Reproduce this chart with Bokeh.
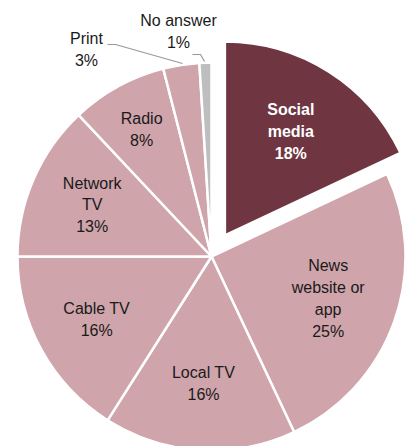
import math
from bokeh.plotting import figure
from bokeh.models import Range1d, ColumnDataSource
from bokeh.core.properties import value
from bokeh.embed import file_html
from bokeh.resources import INLINE

# ---- data ----
categories = ["Social\nmedia", "News\nwebsite or\napp", "Local TV", "Cable TV",
              "Network\nTV", "Radio", "Print", "No answer"]
shares = [18, 25, 16, 16, 13, 8, 3, 1]
colors = ["#6F3641", "#CFA4AB", "#CFA4AB", "#CFA4AB", "#CFA4AB", "#CFA4AB", "#CFA4AB", "#BEBEBE"]

# ---- layout ----
W, H = 405, 446
CX, CY = 211, H - 256
R = 194
explode = [25, 0, 0, 0, 0, 0, 0, 0]
label_r = [123, 124, 127, 131, 130, 145, None, None]
FONT = value("Liberation Sans")
FS = "16px"
LH = 1.28

p = figure(width=W, height=H, output_backend="svg", toolbar_location=None,
           x_range=Range1d(0, W), y_range=Range1d(0, H), min_border=0)
p.axis.visible = False
p.grid.visible = False
p.outline_line_color = None
p.background_fill_color = "white"

total = sum(shares)
cum = 0
xs, ys, starts, ends = [], [], [], []
lx, ly, ltext, lcol, lstyle = [], [], [], [], []
for i, s in enumerate(shares):
    f0 = cum / total
    f1 = (cum + s) / total
    cum += s
    mid = (f0 + f1) / 2 * 2 * math.pi  # clockwise from top
    ox = explode[i] * math.sin(mid)
    oy = explode[i] * math.cos(mid)
    xs.append(CX + ox)
    ys.append(CY + oy)
    starts.append(math.pi / 2 - 2 * math.pi * f0)
    ends.append(math.pi / 2 - 2 * math.pi * f1)
    if label_r[i] is not None:
        lx.append(CX + ox + label_r[i] * math.sin(mid))
        ly.append(CY + oy + label_r[i] * math.cos(mid))
        ltext.append(f"{categories[i]}\n{s}%")
        lcol.append("white" if i == 0 else "#1a1a1a")
        lstyle.append("bold" if i == 0 else "normal")

src = ColumnDataSource(dict(x=xs, y=ys, start=starts, end=ends, color=colors))
p.wedge(x="x", y="y", radius=R, start_angle="start", end_angle="end",
        direction="clock", fill_color="color", line_color="white", line_width=2.5,
        source=src)

lsrc = ColumnDataSource(dict(x=lx, y=ly, text=ltext, color=lcol, style=lstyle))
p.text(x="x", y="y", text="text", text_color="color", text_font_style="style",
       text_font=FONT, text_font_size=FS,
       text_align="center", text_baseline="middle", text_line_height=LH,
       source=lsrc)

# outside labels with leader lines
out_src = ColumnDataSource(dict(
    x=[86, 178], y=[H - 49, H - 31],
    text=[f"{categories[6]}\n{shares[6]}%", f"{categories[7]}\n{shares[7]}%"]))
p.text(x="x", y="y", text="text", text_color="#1a1a1a",
       text_font=FONT, text_font_size=FS,
       text_align="center", text_baseline="middle", text_line_height=LH,
       source=out_src)
p.line([107, 115, 182], [H - 44, H - 44, H - 63], line_color="#999999", line_width=1.2)
p.line([192, 200, 204], [H - 54, H - 54, H - 61], line_color="#999999", line_width=1.2)

open("out.html", "w").write(file_html(p, INLINE))
